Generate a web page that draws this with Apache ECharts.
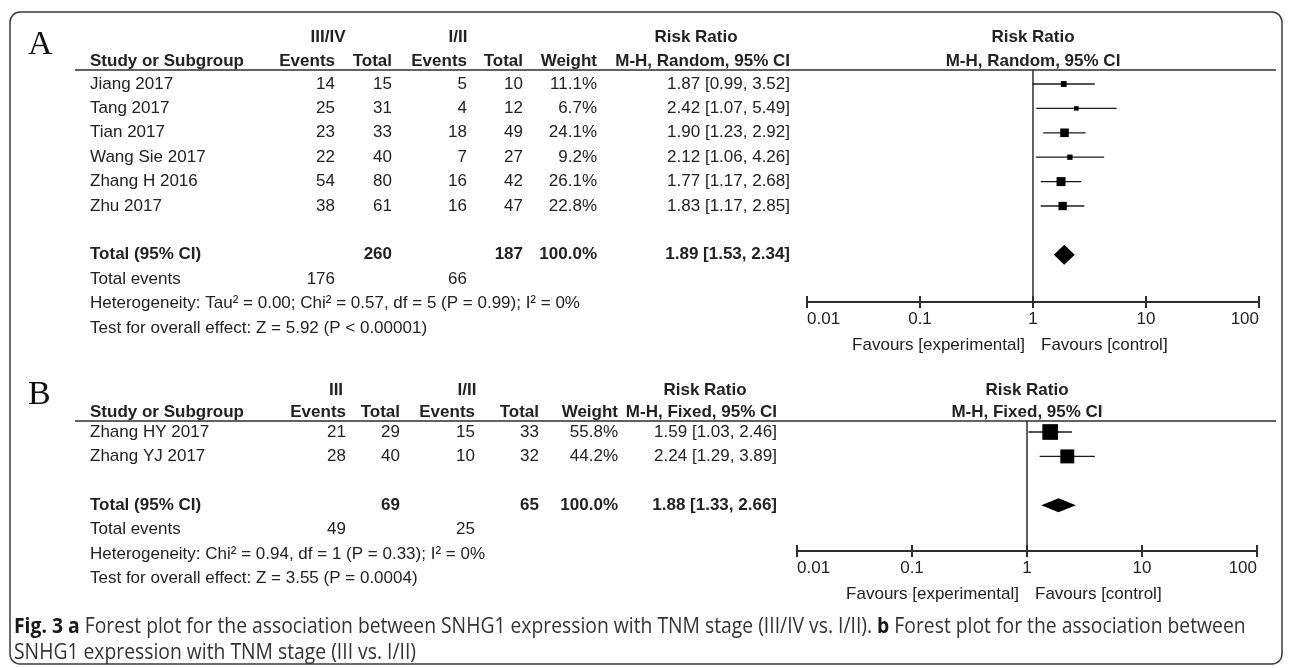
<!DOCTYPE html>
<html>
<head>
<meta charset="utf-8">
<script src="https://cdn.jsdelivr.net/npm/echarts@6/dist/echarts.min.js"></script>
<style>
  html, body { margin: 0; padding: 0; background: #fff; }
  #chart { width: 1292px; height: 668px; }
</style>
</head>
<body>
<div id="chart"></div>
<script>
// ---- Panel A: III/IV vs I/II (random effects) ----
const studiesA = ['Jiang 2017', 'Tang 2017', 'Tian 2017', 'Wang Sie 2017', 'Zhang H 2016', 'Zhu 2017'];
const expEventsA = [14, 25, 23, 22, 54, 38];
const expTotalA = [15, 31, 33, 40, 80, 61];
const ctlEventsA = [5, 4, 18, 7, 16, 16];
const ctlTotalA = [10, 12, 49, 27, 42, 47];
const weightA = [11.1, 6.7, 24.1, 9.2, 26.1, 22.8];
const rrA = [1.87, 2.42, 1.90, 2.12, 1.77, 1.83];
const loA = [0.99, 1.07, 1.23, 1.06, 1.17, 1.17];
const hiA = [3.52, 5.49, 2.92, 4.26, 2.68, 2.85];
const totalsA = [260, 187];          // total participants (III/IV, I/II)
const totalEventsA = [176, 66];
const pooledA = [1.89, 1.53, 2.34];  // RR, lower, upper
const groupsA = ['III/IV', 'I/II'];
const methodA = 'M-H, Random, 95% CI';
const hetA = 'Heterogeneity: Tau\u00b2 = 0.00; Chi\u00b2 = 0.57, df = 5 (P = 0.99); I\u00b2 = 0%';
const testA = 'Test for overall effect: Z = 5.92 (P < 0.00001)';

// ---- Panel B: III vs I/II (fixed effect) ----
const studiesB = ['Zhang HY 2017', 'Zhang YJ 2017'];
const expEventsB = [21, 28];
const expTotalB = [29, 40];
const ctlEventsB = [15, 10];
const ctlTotalB = [33, 32];
const weightB = [55.8, 44.2];
const rrB = [1.59, 2.24];
const loB = [1.03, 1.29];
const hiB = [2.46, 3.89];
const totalsB = [69, 65];
const totalEventsB = [49, 25];
const pooledB = [1.88, 1.33, 2.66];
const groupsB = ['III', 'I/II'];
const methodB = 'M-H, Fixed, 95% CI';
const hetB = 'Heterogeneity: Chi\u00b2 = 0.94, df = 1 (P = 0.33); I\u00b2 = 0%';
const testB = 'Test for overall effect: Z = 3.55 (P = 0.0004)';

const axisTicks = [0.01, 0.1, 1, 10, 100];
const favourLeft = 'Favours [experimental]';
const favourRight = 'Favours [control]';

// ---- layout ----
const SANS = '"Liberation Sans", Arial, sans-serif';
const FS = 17;
const INK = '#222';
const ROW_H = 24.4;

const panels = [
  {
    letter: 'A', letterY: 45,
    head1Y: 37, head2Y: 61, lineY: 70, row0: 84, axisY: 302,
    plotL: 807, plotR: 1259,
    col: { ev1: 335, tot1: 392, ev2: 467, tot2: 523, w: 597, rr: 790 },
    grpX: [328, 458], rrHeadX: 696,
    studies: studiesA, e1: expEventsA, t1: expTotalA, e2: ctlEventsA, t2: ctlTotalA,
    w: weightA, rr: rrA, lo: loA, hi: hiA, totals: totalsA, tev: totalEventsA,
    pooled: pooledA, groups: groupsA, method: methodA, het: hetA, test: testA,
    boxK: 1.75, diamondH: 20
  },
  {
    letter: 'B', letterY: 395,
    head1Y: 390, head2Y: 412, lineY: 421, row0: 432, axisY: 551,
    plotL: 797, plotR: 1257,
    col: { ev1: 346, tot1: 400, ev2: 475, tot2: 539, w: 618, rr: 777 },
    grpX: [336, 467], rrHeadX: 705,
    studies: studiesB, e1: expEventsB, t1: expTotalB, e2: ctlEventsB, t2: ctlTotalB,
    w: weightB, rr: rrB, lo: loB, hi: hiB, totals: totalsB, tev: totalEventsB,
    pooled: pooledB, groups: groupsB, method: methodB, het: hetB, test: testB,
    boxK: 2.1, diamondH: 14
  }
];

const graphics = [];
function txt(text, x, y, o) {
  o = o || {};
  graphics.push({
    type: 'text', silent: true, z: 10,
    style: {
      text: String(text), x: x, y: y,
      fill: o.fill || INK,
      font: (o.bold ? 'bold ' : '') + (o.size || FS) + 'px ' + (o.family || SANS),
      align: o.align || 'left', verticalAlign: 'middle'
    }
  });
}
function hline(x1, x2, y, w) {
  graphics.push({
    type: 'line', silent: true, z: 10,
    shape: { x1: x1, y1: y, x2: x2, y2: y },
    style: { stroke: '#2e2e2e', lineWidth: w || 1.6 }
  });
}

// outer frame
graphics.push({
  type: 'rect', silent: true, z: 1,
  shape: { x: 10, y: 12, width: 1272, height: 652, r: 10 },
  style: { fill: 'none', stroke: '#3a3a3a', lineWidth: 1.5 }
});

const rowY = (p, i) => p.row0 + i * ROW_H;
const fmt2 = v => v.toFixed(2);

panels.forEach(p => {
  const c = p.col;
  txt(p.letter, 28, p.letterY, { size: 34, family: '"Liberation Serif", "Times New Roman", serif', fill: '#111' });
  // column headers
  txt(p.groups[0], p.grpX[0], p.head1Y, { bold: true, align: 'center' });
  txt(p.groups[1], p.grpX[1], p.head1Y, { bold: true, align: 'center' });
  txt('Risk Ratio', p.rrHeadX, p.head1Y, { bold: true, align: 'center' });
  txt('Risk Ratio', (p.plotL + p.plotR) / 2, p.head1Y, { bold: true, align: 'center' });
  txt('Study or Subgroup', 90, p.head2Y, { bold: true });
  txt('Events', c.ev1, p.head2Y, { bold: true, align: 'right' });
  txt('Total', c.tot1, p.head2Y, { bold: true, align: 'right' });
  txt('Events', c.ev2, p.head2Y, { bold: true, align: 'right' });
  txt('Total', c.tot2, p.head2Y, { bold: true, align: 'right' });
  txt('Weight', c.w, p.head2Y, { bold: true, align: 'right' });
  txt(p.method, c.rr, p.head2Y, { bold: true, align: 'right' });
  txt(p.method, (p.plotL + p.plotR) / 2, p.head2Y, { bold: true, align: 'center' });
  hline(75, 1276, p.lineY);

  // study rows
  p.studies.forEach((s, i) => {
    const y = rowY(p, i);
    txt(s, 90, y);
    txt(p.e1[i], c.ev1, y, { align: 'right' });
    txt(p.t1[i], c.tot1, y, { align: 'right' });
    txt(p.e2[i], c.ev2, y, { align: 'right' });
    txt(p.t2[i], c.tot2, y, { align: 'right' });
    txt(p.w[i].toFixed(1) + '%', c.w, y, { align: 'right' });
    txt(fmt2(p.rr[i]) + ' [' + fmt2(p.lo[i]) + ', ' + fmt2(p.hi[i]) + ']', c.rr, y, { align: 'right' });
  });
  // pooled rows
  const n = p.studies.length;
  const yT = rowY(p, n + 1);
  txt('Total (95% CI)', 90, yT, { bold: true });
  txt(p.totals[0], c.tot1, yT, { bold: true, align: 'right' });
  txt(p.totals[1], c.tot2, yT, { bold: true, align: 'right' });
  txt('100.0%', c.w, yT, { bold: true, align: 'right' });
  txt(fmt2(p.pooled[0]) + ' [' + fmt2(p.pooled[1]) + ', ' + fmt2(p.pooled[2]) + ']', c.rr, yT, { bold: true, align: 'right' });
  const yE = rowY(p, n + 2);
  txt('Total events', 90, yE);
  txt(p.tev[0], c.ev1, yE, { align: 'right' });
  txt(p.tev[1], c.ev2, yE, { align: 'right' });
  txt(p.het, 90, rowY(p, n + 3));
  txt(p.test, 90, rowY(p, n + 4));

  // favours labels either side of the null line
  const span = p.plotR - p.plotL;
  const x1 = p.plotL + span * (Math.log10(1) - Math.log10(0.01)) / 4;
  txt(favourLeft, x1 - 8, p.axisY + 43, { align: 'right' });
  txt(favourRight, x1 + 8, p.axisY + 43, { align: 'left' });
});

// caption
const capRich = {
  b: { fontWeight: 'bold', fontSize: 21, fontFamily: '"Open Sans", sans-serif', fill: '#1a1a1a' },
  n: { fontWeight: 'normal', fontSize: 21, fontFamily: '"Open Sans", sans-serif', fill: '#333' }
};
graphics.push({
  type: 'text', silent: true, z: 10,
  x: 14, y: 627, scaleX: 0.92, originX: 0, originY: 0,
  style: {
    text: '{b|Fig. 3 a}{n| Forest plot for the association between SNHG1 expression with TNM stage (III/IV vs. I/II). }{b|b}{n| Forest plot for the association between}',
    x: 0, y: 0, verticalAlign: 'middle',
    fontSize: 21, fontFamily: '"Open Sans", sans-serif', fill: '#333',
    rich: capRich
  }
});
graphics.push({
  type: 'text', silent: true, z: 10,
  x: 14, y: 653, scaleX: 0.92, originX: 0, originY: 0,
  style: {
    text: 'SNHG1 expression with TNM stage (III vs. I/II)',
    x: 0, y: 0, verticalAlign: 'middle',
    fontSize: 21, fontFamily: '"Open Sans", sans-serif', fill: '#333'
  }
});

// ---- forest plot axes and marks ----
const grids = [], xAxes = [], yAxes = [], series = [];
const labelFmt = v => String(Number(v.toPrecision(3)));

panels.forEach((p, gi) => {
  const yMin = (p.lineY - p.row0) / ROW_H;
  const yMax = (p.axisY - p.row0) / ROW_H;
  grids.push({ left: p.plotL, width: p.plotR - p.plotL, top: p.lineY, height: p.axisY - p.lineY });
  const base = {
    type: 'log', logBase: 10, min: axisTicks[0], max: axisTicks[axisTicks.length - 1],
    gridIndex: gi, position: 'bottom', splitLine: { show: false }
  };
  xAxes.push(Object.assign({}, base, {
    axisLine: { show: true, onZero: false, lineStyle: { color: '#2e2e2e', width: 2 } },
    axisTick: { show: true, inside: false, length: 6, lineStyle: { color: '#2e2e2e', width: 2 } },
    axisLabel: {
      show: true, margin: 9, fontSize: FS, fontFamily: SANS, color: INK,
      formatter: labelFmt, alignMinLabel: 'left', alignMaxLabel: 'right'
    }
  }));
  xAxes.push(Object.assign({}, base, {
    axisLine: { show: false, onZero: false },
    axisTick: { show: true, inside: true, length: 6, lineStyle: { color: '#2e2e2e', width: 2 } },
    axisLabel: { show: false }
  }));
  yAxes.push({ type: 'value', gridIndex: gi, inverse: true, min: yMin, max: yMax, show: false });

  // null-effect line at RR = 1
  series.push({
    type: 'line', xAxisIndex: gi * 2, yAxisIndex: gi, symbol: 'none', silent: true,
    lineStyle: { color: '#2e2e2e', width: 1.5 },
    data: [[1, yMin], [1, yMax]], z: 2
  });

  const n = p.studies.length;
  const data = p.studies.map((s, i) => [p.rr[i], p.lo[i], p.hi[i], i, p.w[i], 0]);
  data.push([p.pooled[0], p.pooled[1], p.pooled[2], n + 1, 100, 1]);
  series.push({
    type: 'custom', xAxisIndex: gi * 2, yAxisIndex: gi, silent: true, z: 3,
    encode: { x: [0, 1, 2], y: 3 },
    data: data,
    renderItem: (params, api) => {
      const e = api.value(0), lo = api.value(1), hi = api.value(2), r = api.value(3);
      const w = api.value(4), kind = api.value(5);
      const pe = api.coord([e, r]), pl = api.coord([lo, r]), ph = api.coord([hi, r]);
      if (kind === 1) {
        const h = p.diamondH / 2;
        return {
          type: 'polygon',
          shape: { points: [[pl[0], pe[1]], [pe[0], pe[1] - h], [ph[0], pe[1]], [pe[0], pe[1] + h]] },
          style: { fill: '#000' }
        };
      }
      const s = p.boxK * Math.sqrt(w);
      return {
        type: 'group',
        children: [
          { type: 'line', shape: { x1: pl[0], y1: pl[1], x2: ph[0], y2: ph[1] }, style: { stroke: '#1a1a1a', lineWidth: 1.3 } },
          { type: 'rect', shape: { x: pe[0] - s / 2, y: pe[1] - s / 2, width: s, height: s }, style: { fill: '#000' } }
        ]
      };
    }
  });
});

const chart = echarts.init(document.getElementById('chart'), null, { renderer: 'canvas' });
chart.setOption({
  animation: false,
  backgroundColor: '#fff',
  grid: grids,
  xAxis: xAxes,
  yAxis: yAxes,
  series: series,
  graphic: graphics
});
</script>
</body>
</html>
